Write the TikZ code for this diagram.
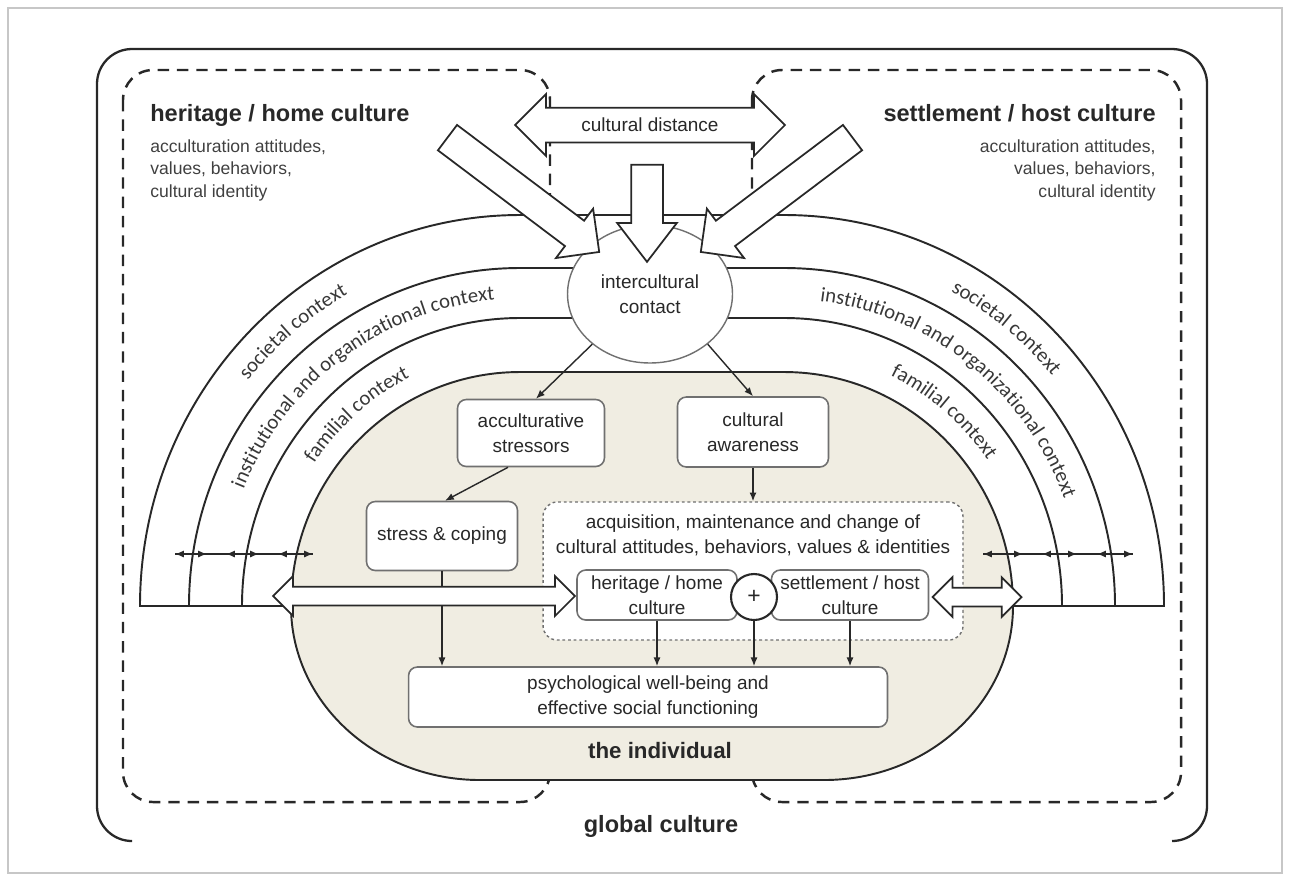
\documentclass[tikz,border=0pt]{standalone}
\usepackage{fontspec}
\setmainfont{Liberation Sans}
\newfontfamily\arcfont{Carlito}
\usetikzlibrary{shapes.geometric, shapes.arrows, arrows.meta, positioning, calc, decorations.text}

\definecolor{indiv}{RGB}{240,237,226}
\definecolor{boxline}{RGB}{112,112,112}
\definecolor{ink}{RGB}{40,40,40}

\newcommand{\boxfont}{\fontsize{10.8}{14.4}\selectfont}
\newcommand{\notefont}{\fontsize{10}{12.8}\selectfont}
\newcommand{\titlefont}{\fontsize{13.4}{16}\selectfont\bfseries}
\newcommand{\arclabel}{\arcfont\fontsize{11.8}{13}\selectfont}

\begin{document}
\begin{tikzpicture}[
    x=0.02cm, y=0.02cm,
    box/.style={
        rectangle,
        draw=boxline,
        line width=0.9pt,
        fill=white,
        rounded corners=5pt,
        align=center,
        font=\boxfont,
        text=ink,
        inner sep=2pt
    },
    hollow/.style={
        draw=ink,
        line width=1pt,
        fill=white,
        inner xsep=0pt,
        inner ysep=#1,
        font=\boxfont,
        text=ink
    },
    hollow/.default=0pt,
    ring/.style={
        draw=ink,
        line width=1.1pt,
        fill=white
    },
    culture/.style={
        draw=ink,
        line width=1.4pt,
        dash pattern=on 6.5pt off 4.5pt,
        rounded corners=0.6cm
    },
    line/.style={
        draw=ink,
        line width=0.8pt,
        -{Latex[length=5pt,width=4pt]}
    },
    tiny/.style={
        draw=ink,
        line width=0.8pt,
        {Latex[length=5pt,width=4pt]}-{Latex[length=5pt,width=4pt]}
    },
    arctext/.style={
        decorate,
        decoration={text along path, text align=center, text color=black!78,
            text={|\arclabel|#1}}
    }
]
    \useasboundingbox (0,0) rectangle (1290,-877);
    \draw[black!22, line width=1.2pt] (8,-8) rectangle (1282,-873);

    % --- Global culture ---
    \draw[ink, line width=1.3pt, rounded corners=0.7cm]
        (132,-841) -- (97,-841) -- (97,-49) -- (1207,-49) -- (1207,-841) -- (1172,-841);

    % --- Heritage and settlement cultures ---
    \draw[culture] (123,-70) rectangle (550,-802);
    \draw[culture] (752,-70) rectangle (1181,-802);

    % --- Context arches ---
    \foreach \rx/\ry in {380/391, 331/338, 278/288}
        \draw[ring] ({520-\rx},-606) arc[start angle=180, end angle=90, x radius=\rx, y radius=\ry]
            -- (784,{-606+\ry}) arc[start angle=90, end angle=0, x radius=\rx, y radius=\ry] -- cycle;

    % --- The individual ---
    \draw[ring, fill=indiv] (291,-606)
        arc[start angle=180, end angle=90, x radius=229, y radius=234] -- (784,-372)
        arc[start angle=90, end angle=0, x radius=229, y radius=234]
        arc[start angle=0, end angle=-90, x radius=189, y radius=174] -- (480,-780)
        arc[start angle=270, end angle=180, x radius=189, y radius=174] -- cycle;

    % context labels
    \coordinate (cl) at (520,-606);
    \coordinate (cr) at (784,-606);
    \path[arctext={societal context}] ($(cl)+(170:350 and 358)$)
        arc[start angle=170, end angle=90, x radius=350, y radius=358];
    \path[arctext={institutional and organizational context}] ($(cl)+(176:299 and 307)$)
        arc[start angle=176, end angle=76, x radius=299, y radius=307];
    \path[arctext={familial context}] ($(cl)+(171:248 and 255)$)
        arc[start angle=171, end angle=91, x radius=248, y radius=255];
    \path[arctext={societal context}] ($(cr)+(91:350 and 358)$)
        arc[start angle=91, end angle=11, x radius=350, y radius=358];
    \path[arctext={institutional and organizational context}] ($(cr)+(102:299 and 307)$)
        arc[start angle=102, end angle=2, x radius=299, y radius=307];
    \path[arctext={familial context}] ($(cr)+(90:248 and 255)$)
        arc[start angle=90, end angle=10, x radius=248, y radius=255];

    % --- Nodes ---
    \node[ellipse, draw=boxline, line width=0.8pt, fill=white, minimum width=3.3cm, minimum height=2.76cm,
        align=center, font=\boxfont, text=ink] (contact) at (650,-294) {intercultural\\contact};

    \node[hollow, double arrow, minimum height=5.4cm, minimum width=1.2cm, text height=0.46cm, text depth=0.2cm,
        double arrow head extend=0.27cm] (distance) at (650,-125) {cultural distance};
    \node[hollow=0.3cm, single arrow, minimum height=3.8cm, minimum width=1.2cm,
        single arrow head extend=0.3cm, rotate=-37] (fromhome) at (517,-190) {};
    \node[hollow=0.3cm, single arrow, minimum height=3.8cm, minimum width=1.2cm,
        single arrow head extend=0.3cm, rotate=217] (fromhost) at (783,-190) {};
    \node[hollow=0.3cm, single arrow, minimum height=1.94cm, minimum width=1.16cm,
        single arrow head extend=0.28cm, single arrow tip angle=75, rotate=-90] (gap) at (647,-203) {};

    \node[box, minimum width=2.94cm, minimum height=1.34cm] (stressors) at (531,-433) {acculturative\\stressors};
    \node[box, minimum width=3.02cm, minimum height=1.4cm] (awareness) at (753,-432) {cultural\\awareness};
    \node[box, minimum width=3.02cm, minimum height=1.38cm] (coping) at (442,-536) {stress \& coping};

    \node[draw=boxline, line width=0.8pt, dash pattern=on 1.6pt off 1.6pt, fill=white, rounded corners=8pt,
        minimum width=8.4cm, minimum height=2.76cm] (change) at (753,-571) {};
    \node[font=\boxfont, text=ink, align=center] at (753,-535)
        {acquisition, maintenance and change of\\cultural attitudes, behaviors, values \& identities};

    \node[box, minimum width=3.2cm, minimum height=1cm, inner sep=1pt] (homebox) at (657,-595) {heritage / home\\culture};
    \node[box, minimum width=3.14cm, minimum height=1cm, inner sep=1pt] (hostbox) at (850,-595) {settlement / host\\culture};
    \node[circle, draw=ink, line width=1.2pt, fill=white, minimum size=0.92cm, inner sep=0pt,
        font=\fontsize{13}{13}\selectfont, text=ink] (plus) at (754,-597) {+};

    \node[box, minimum width=9.58cm, minimum height=1.2cm] (wellbeing) at (648,-697)
        {psychological well-being and\\effective social functioning};

    % --- Connections ---
    \draw[line] (contact.221) -- ([xshift=0.1cm]stressors.north);
    \draw[line] (contact.319) -- (awareness.north);
    \draw[line] ([xshift=-0.46cm]stressors.south) -- ([xshift=0.06cm]coping.north);
    \draw[line] (awareness.south) -- (awareness.south |- change.north);
    \draw[line] (coping.south) -- (coping.south |- wellbeing.north);
    \draw[line] (homebox.south) -- (homebox.south |- wellbeing.north);
    \draw[line] (plus.south) -- (plus.south |- wellbeing.north);
    \draw[line] (hostbox.south) -- (hostbox.south |- wellbeing.north);

    % exchange with the individual
    \node[hollow=0.17cm, double arrow, minimum height=6.04cm, minimum width=0.76cm,
        double arrow head extend=0.21cm] (homeflow) at (424,-596) {};
    \node[hollow=0.17cm, double arrow, minimum height=1.78cm, minimum width=0.76cm,
        double arrow head extend=0.21cm] (hostflow) at (977,-597) {};

    % exchange across the contexts
    \coordinate (lw) at (175,-554);
    \coordinate (le) at (313,-554);
    \coordinate (rw) at (983,-554);
    \coordinate (re) at (1133,-554);
    \draw[ink, line width=0.8pt] (lw) -- (le);
    \draw[ink, line width=0.8pt] (rw) -- (re);
    \foreach \a/\b in {175/207, 226/259, 278/313, 983/1023, 1042/1077, 1097/1133}
        \draw[tiny] (\a,-554) -- (\b,-554);

    % --- Labels ---
    \node[font=\titlefont, text=ink, anchor=base west, inner sep=0pt] (home) at (150,-121) {heritage / home culture};
    \node[font=\notefont, text=black!75, anchor=north west, align=left, inner sep=0pt] at (150,-139)
        {acculturation attitudes,\\values, behaviors,\\cultural identity};
    \node[font=\titlefont, text=ink, anchor=base east, inner sep=0pt] (host) at (1156,-121) {settlement / host culture};
    \node[font=\notefont, text=black!75, anchor=north east, align=right, inner sep=0pt] at (1156,-139)
        {acculturation attitudes,\\values, behaviors,\\cultural identity};

    \node[font=\fontsize{12.7}{15}\selectfont\bfseries, text=ink, anchor=base, inner sep=0pt] (individual) at (660,-758) {the individual};
    \node[font=\titlefont, text=ink, anchor=base, inner sep=0pt] (global) at (661,-832) {global culture};

\end{tikzpicture}
\end{document}
